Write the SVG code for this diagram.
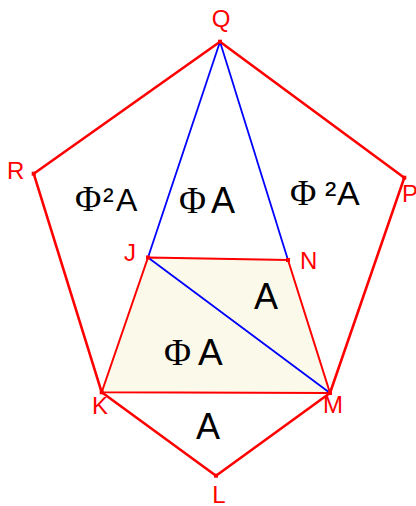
<svg xmlns="http://www.w3.org/2000/svg" width="416" height="506" viewBox="0 0 416 506">
<style>
.outer{fill:none;stroke:#ff0000;stroke-width:2.6;stroke-linejoin:round}
.red{fill:none;stroke:#ff0000;stroke-width:2;stroke-linejoin:round}
.blue{fill:none;stroke:#0000ff;stroke-width:1.8}
.pt{fill:#ff0000}
.lbl{fill:#ff0000;font-family:"Liberation Sans",Arial,sans-serif;font-size:24px}
.big{fill:#000000;font-family:"Liberation Sans",Arial,sans-serif}
.phi{font-family:"Liberation Serif","Times New Roman",serif}
</style>
<rect width="416" height="506" fill="#ffffff"/>
<g id="trapezoid-fill">
<polygon points="148,257.5 288,260 330,393 101.7,392.3" fill="#fbf9e9"/>
</g>
<g id="connectors">
<polyline class="outer" points="220,41.7 33.7,173.7 101.7,392.3 216,475.7 330,393 404.3,177.7 220,41.7"/>
<polygon class="red" points="148,257.5 288,260 330,393 101.7,392.3"/>
<line class="blue" x1="220" y1="41.7" x2="148" y2="257.5"/>
<line class="blue" x1="220" y1="41.7" x2="288" y2="260"/>
<line class="blue" x1="148" y1="257.5" x2="330" y2="393"/>
</g>
<g id="node-Q"><rect class="pt" x="218" y="39.7" width="4" height="4"/><text class="lbl" x="221" y="27" text-anchor="middle">Q</text></g>
<g id="node-R"><rect class="pt" x="31.7" y="171.7" width="4" height="4"/><text class="lbl" x="7" y="179">R</text></g>
<g id="node-P"><rect class="pt" x="402.3" y="175.7" width="4" height="4"/><text class="lbl" x="402" y="202">P</text></g>
<g id="node-J"><rect class="pt" x="146" y="255.5" width="4" height="4"/><text class="lbl" x="124" y="261">J</text></g>
<g id="node-N"><rect class="pt" x="286" y="258" width="4" height="4"/><text class="lbl" x="300" y="269">N</text></g>
<g id="node-K"><rect class="pt" x="99.7" y="390.3" width="4" height="4"/><text class="lbl" x="92" y="414">K</text></g>
<g id="node-M"><rect class="pt" x="328" y="391" width="4" height="4"/><text class="lbl" x="323" y="413">M</text></g>
<g id="node-L"><rect class="pt" x="214" y="473.7" width="4" height="4"/><text class="lbl" x="219" y="503" text-anchor="middle">L</text></g>
<g id="region-labels">
<text class="big" y="210.5" font-size="32"><tspan class="phi" x="75" font-size="36">Φ</tspan><tspan x="103">²</tspan><tspan x="116">A</tspan></text>
<text class="big" y="213" font-size="36"><tspan class="phi" x="179" font-size="37">Φ</tspan><tspan x="211">A</tspan></text>
<text class="big" y="205" font-size="34"><tspan class="phi" x="290" font-size="36">Φ</tspan><tspan x="325">²</tspan><tspan x="337">A</tspan></text>
<text class="big" x="254" y="309" font-size="36">A</text>
<text class="big" y="365" font-size="37"><tspan class="phi" x="164" font-size="37">Φ</tspan><tspan x="198">A</tspan></text>
<text class="big" x="196" y="439" font-size="36">A</text>
</g>
</svg>
